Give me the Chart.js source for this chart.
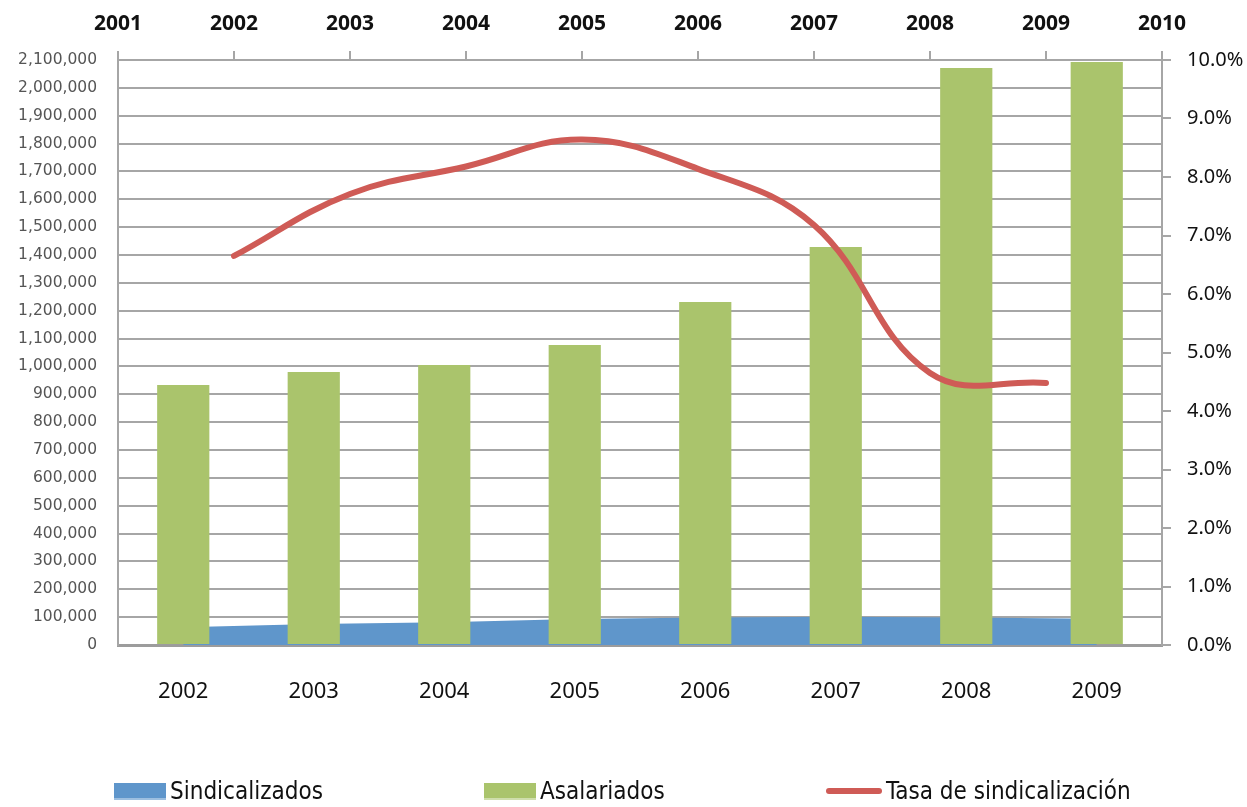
<!DOCTYPE html>
<html>
<head>
<meta charset="utf-8">
<script src="https://cdn.jsdelivr.net/npm/chart.js@4.4.1/dist/chart.umd.min.js"></script>
<style>
    body { margin: 0; background: #fff; }
    #wrap { position: relative; width: 1247px; height: 807px; }
    .leg { position: absolute; top: 776px; height: 30px; display: flex; align-items: center;
           font-family: "Liberation Sans Narrow", "DejaVu Sans Condensed", "Liberation Sans", sans-serif;
           font-size: 24px; color: #111; }
    .leg i { display: inline-block; margin-right: 4px; }
</style>
</head>
<body>
<div id="wrap">
    <canvas id="chart" width="1247" height="807"></canvas>
    <div class="leg" style="left:114px"><i style="width:52px;height:15px;background:#5F96CB;border-bottom:2px solid #9DBFE0"></i>Sindicalizados</div>
    <div class="leg" style="left:484px"><i style="width:52px;height:15px;background:#AAC46C;border-bottom:2px solid #CFDEAC"></i>Asalariados</div>
    <div class="leg" style="left:826px"><i style="width:56px;height:6px;background:#CF5B56;border-radius:3px"></i>Tasa de sindicalización</div>
</div>
<script>
const years = ['2002', '2003', '2004', '2005', '2006', '2007', '2008', '2009'];
const sindicalizados = [64000, 75000, 82000, 93000, 99000, 101000, 99000, 94000];
const asalariados = [933000, 980000, 1005000, 1077000, 1231000, 1429000, 2071000, 2093000];
const tasa = [6.65, 7.71, 8.18, 8.64, 8.14, 7.18, 4.65, 4.48];
const topYears = [2001, 2010];

window.onload = () => {
    const ctx = document.getElementById('chart');
    const gray = '#A6A6A6';

    const data = {
        labels: years,
        datasets: [{
            type: 'line',
            label: 'Sindicalizados',
            data: sindicalizados,
            backgroundColor: '#5F96CB',
            borderWidth: 0,
            pointRadius: 0,
            fill: 'origin',
            tension: 0,
            xAxisID: 'x',
            yAxisID: 'y',
            order: 3
        }, {
            type: 'bar',
            label: 'Asalariados',
            data: asalariados,
            backgroundColor: '#AAC46C',
            barPercentage: 0.4,
            categoryPercentage: 1,
            grouped: false,
            xAxisID: 'x',
            yAxisID: 'y',
            order: 2
        }, {
            type: 'line',
            label: 'Tasa de sindicalización',
            data: years.map((y, i) => ({ x: Number(y), y: tasa[i] })),
            borderColor: '#CF5B56',
            borderWidth: 6,
            borderCapStyle: 'round',
            pointRadius: 0,
            tension: 0.4,
            fill: false,
            xAxisID: 'x2',
            yAxisID: 'y2',
            order: 1
        }]
    };

    const config = {
        type: 'bar',
        data: data,
        options: {
            responsive: false,
            animation: false,
            layout: { padding: 0 },
            plugins: {
                legend: { display: false },
                tooltip: { enabled: false }
            },
            scales: {
                x: {
                    position: 'bottom',
                    offset: true,
                    grid: { display: false },
                    border: { color: '#9C9C9C', width: 3 },
                    ticks: {
                        padding: 26,
                        color: '#111',
                        font: { family: 'Noto Sans', size: 22 }
                    },
                    afterFit: (s) => { s.height = 162; }
                },
                x2: {
                    type: 'linear',
                    position: 'top',
                    min: topYears[0],
                    max: topYears[1],
                    offset: false,
                    grid: { offset: false, drawOnChartArea: false, tickLength: 9, color: gray, lineWidth: 2 },
                    border: { color: gray, width: 2 },
                    ticks: {
                        stepSize: 1,
                        padding: 14,
                        color: '#111',
                        font: { family: 'Noto Sans', size: 21, weight: 'bold' },
                        callback: (v) => String(v)
                    },
                    afterFit: (s) => { s.height = 60; }
                },
                y: {
                    position: 'left',
                    min: 0,
                    max: 2100000,
                    grid: { color: gray, lineWidth: 2, drawTicks: false },
                    border: { color: gray, width: 2 },
                    ticks: {
                        stepSize: 100000,
                        padding: 21,
                        color: '#555',
                        font: { family: 'DejaVu Sans', size: 15.5 },
                        callback: (v) => v.toLocaleString('en-US')
                    },
                    afterFit: (s) => { s.width = 118; }
                },
                y2: {
                    position: 'right',
                    min: 0,
                    max: 10,
                    grid: { drawOnChartArea: false, tickLength: 9, color: gray, lineWidth: 2 },
                    border: { color: gray, width: 2 },
                    ticks: {
                        stepSize: 1,
                        padding: 16,
                        color: '#111',
                        font: { family: 'Noto Sans', size: 20 },
                        callback: (v) => v.toFixed(1) + '%'
                    },
                    afterFit: (s) => { s.width = 85; }
                }
            }
        }
    };
    new Chart(ctx, config);
};
</script>
</body>
</html>
